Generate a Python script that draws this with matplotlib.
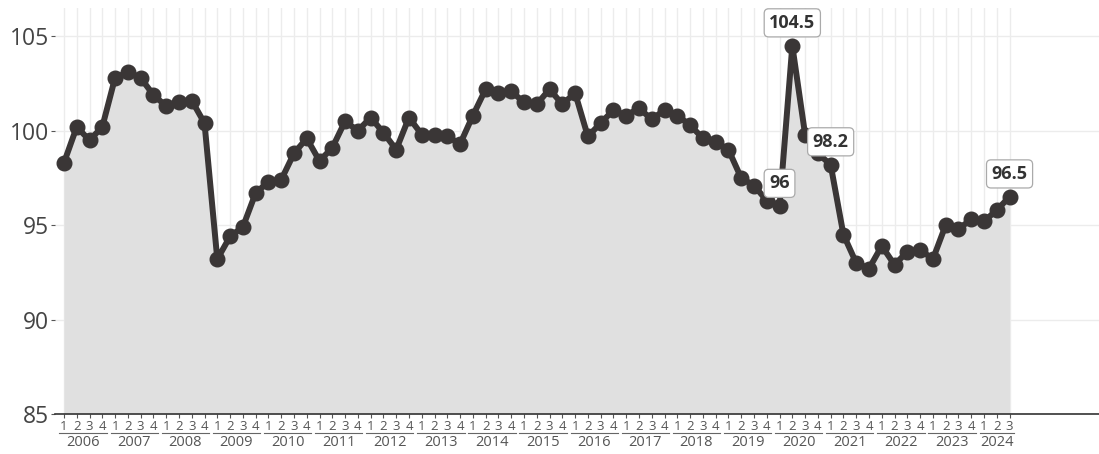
import numpy as np
import matplotlib
matplotlib.use("Agg")
import matplotlib.pyplot as plt
import matplotlib.transforms as mtransforms

plt.rcParams["font.family"] = ["Open Sans", "DejaVu Sans"]

# =========================================
# Data (quarterly index, 2006 Q1 - 2024 Q3)
# =========================================
years = list(range(2006, 2025))
quarters = [1, 2, 3, 4]

values = [
    98.3, 100.2, 99.5, 100.2,      # 2006
    102.8, 103.1, 102.8, 101.9,    # 2007
    101.3, 101.5, 101.6, 100.4,    # 2008
    93.2, 94.4, 94.9, 96.7,        # 2009
    97.3, 97.4, 98.8, 99.6,        # 2010
    98.4, 99.1, 100.5, 100.0,      # 2011
    100.7, 99.9, 99.0, 100.7,      # 2012
    99.8, 99.8, 99.7, 99.3,        # 2013
    100.8, 102.2, 102.0, 102.1,    # 2014
    101.5, 101.4, 102.2, 101.4,    # 2015
    102.0, 99.7, 100.4, 101.1,     # 2016
    100.8, 101.2, 100.6, 101.1,    # 2017
    100.8, 100.3, 99.6, 99.4,      # 2018
    99.0, 97.5, 97.1, 96.3,        # 2019
    96.0, 104.5, 99.8, 98.8,       # 2020
    98.2, 94.5, 93.0, 92.7,        # 2021
    93.9, 92.9, 93.6, 93.7,        # 2022
    93.2, 95.0, 94.8, 95.3,        # 2023
    95.2, 95.8, 96.5,              # 2024
]

# points with a value box
labelled = [56, 57, 60, 74]

quarter_labels = [q for y in years for q in quarters][:len(values)]
year_of_point = [y for y in years for q in quarters][:len(values)]

x = np.arange(len(values))

# =========================================
# Figure
# =========================================
fig = plt.figure(figsize=(10.99, 4.54), dpi=100)
ax = fig.add_axes([55 / 1099, 40 / 454, 1 - 55 / 1099, (414 - 8) / 454])

ax.set_xlim(-0.7, 81)
ax.set_ylim(85, 106.5)

# grid
for yv in [85, 90, 95, 100, 105]:
    ax.axhline(yv, color="#ececec", lw=1, zorder=0)
for xv in x:
    ax.axvline(xv, color="#ececec", lw=1, zorder=0)

ax.fill_between(x, 85, values, color="#e0e0e0", zorder=1, lw=0)
ax.plot(x, values, color="#3a3636", lw=4.3, marker="o", ms=10.5, zorder=3,
        solid_joinstyle="round")

for i in labelled:
    v = values[i]
    txt = f"{v:g}"
    ax.annotate(txt, (x[i], v), xytext=(0, 16.5), textcoords="offset points",
                ha="center", va="center", fontsize=13, fontweight="bold",
                color="#333333", zorder=5,
                bbox=dict(boxstyle="round,pad=0.28,rounding_size=0.25",
                          fc="white", ec="#aaaaaa", lw=0.9))

# axes styling
for s in ["top", "right", "left"]:
    ax.spines[s].set_visible(False)
ax.spines["bottom"].set_color("#333333")
ax.spines["bottom"].set_linewidth(1.2)

ax.set_yticks([85, 90, 95, 100, 105])
ax.tick_params(axis="y", length=3, width=0.8, color="#555555",
               labelsize=16.5, labelcolor="#444444", pad=1)
ax.set_xticks(x)
ax.set_xticklabels([])
ax.tick_params(axis="x", length=3, width=0.8, color="#555555")

# nested quarter / year labels
trans = mtransforms.blended_transform_factory(ax.transData, ax.transAxes)
h = 406 / 454  # axes height in figure fraction
def ay(px_below):
    return -px_below / (h * 454)

for i, q in enumerate(quarter_labels):
    ax.text(x[i], ay(12), str(q), transform=trans, ha="center", va="center",
            fontsize=9.5, color="#555555")

for y in years:
    idx = [i for i, yy in enumerate(year_of_point) if yy == y]
    x0, x1 = x[idx[0]] - 0.35, x[idx[-1]] + 0.35
    ax.plot([x0, x1], [ay(18.5), ay(18.5)], transform=trans, color="#666666",
            lw=0.8, clip_on=False)
    ax.text((x[idx[0]] + x[idx[-1]]) / 2, ay(28.5), str(y), transform=trans,
            ha="center", va="center", fontsize=10.5, color="#555555")

fig.savefig("out.png", dpi=100)
